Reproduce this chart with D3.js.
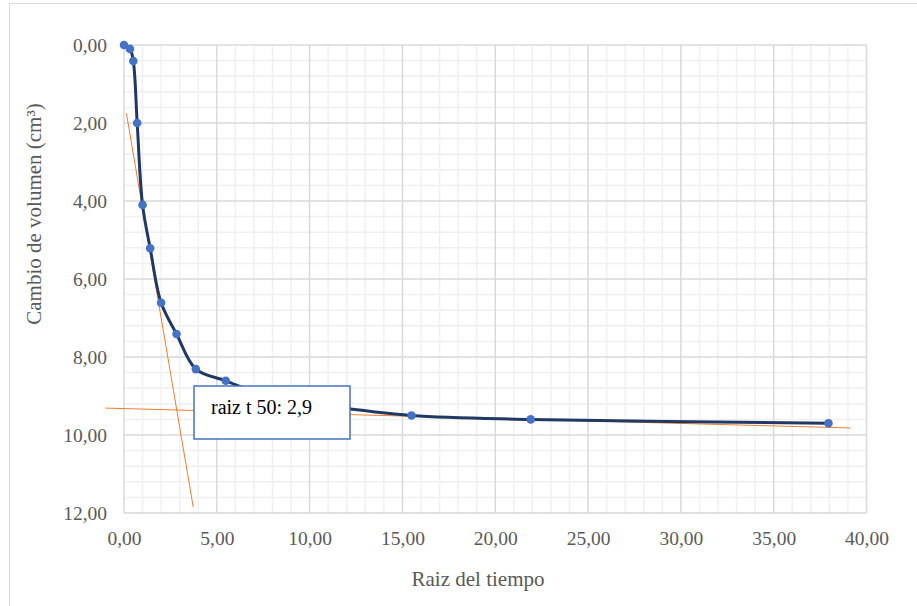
<!DOCTYPE html>
<html>
<head>
<meta charset="utf-8">
<script src="https://cdn.jsdelivr.net/npm/d3@7"></script>
<style>
  html, body { margin: 0; padding: 0; background: #fff; }
  svg { display: block; }
</style>
</head>
<body>
<svg id="chart" width="917" height="606"></svg>
<script>
// Square root of elapsed time and measured volume change
const rootTime = [0, 0.32, 0.50, 0.71, 1.00, 1.41, 2.00, 2.83, 3.87, 5.48, 7.75, 10.95, 15.49, 21.91, 37.95];
const volumeChange = [0, 0.10, 0.41, 2.00, 4.10, 5.21, 6.61, 7.41, 8.31, 8.61, 9.00, 9.25, 9.50, 9.60, 9.70];

// Construction lines (Taylor method): initial tangent and final asymptote
const steepTangent = [[0.13, 1.75], [3.73, 11.85]];
const flatTangent = [[-1.0, 9.31], [39.15, 9.82]];

// Axis ticks
const xTicks = [0, 5, 10, 15, 20, 25, 30, 35, 40];
const yTicks = [0, 2, 4, 6, 8, 10, 12];

const annotationText = "raiz t 50: 2,9";

const svg = d3.select("#chart");
const margin = { left: 124, top: 45, right: 866.5, bottom: 513 };
const serif = "'Liberation Serif', 'Times New Roman', serif";

const x = d3.scaleLinear().domain([0, 40]).range([margin.left, margin.right]);
const y = d3.scaleLinear().domain([0, 12]).range([margin.top, margin.bottom]);

const fmt = v => d3.format(".2f")(v).replace(".", ",");

// Outer chart frame
svg.append("rect")
  .attr("x", 9.5).attr("y", 3.5)
  .attr("width", 940).attr("height", 640)
  .attr("fill", "#fff").attr("stroke", "#d9d9d9").attr("stroke-width", 1);

// Minor gridlines
const grid = svg.append("g");
grid.selectAll(".vminor").data(d3.range(1, 40, 1).filter(v => v % 5 !== 0))
  .join("line")
  .attr("x1", d => x(d)).attr("x2", d => x(d))
  .attr("y1", y(0)).attr("y2", y(12))
  .attr("stroke", "#f0f0f0").attr("stroke-width", 1.5);
grid.selectAll(".hminor").data(d3.range(0.4, 12, 0.4).filter(v => Math.abs(v / 2 - Math.round(v / 2)) > 1e-6))
  .join("line")
  .attr("x1", x(0)).attr("x2", x(40))
  .attr("y1", d => y(d)).attr("y2", d => y(d))
  .attr("stroke", "#f0f0f0").attr("stroke-width", 1.5);

// Major gridlines
grid.selectAll(".vmajor").data(xTicks)
  .join("line")
  .attr("x1", d => x(d)).attr("x2", d => x(d))
  .attr("y1", y(0)).attr("y2", y(12))
  .attr("stroke", "#d9d9d9").attr("stroke-width", 1.5);
grid.selectAll(".hmajor").data(yTicks)
  .join("line")
  .attr("x1", x(0)).attr("x2", x(40))
  .attr("y1", d => y(d)).attr("y2", d => y(d))
  .attr("stroke", "#d9d9d9").attr("stroke-width", 1.5);

// Axes (labels only; gridlines carry the lines)
const xAxis = svg.append("g")
  .attr("transform", `translate(0,${y(12)})`)
  .call(d3.axisBottom(x).tickValues(xTicks).tickFormat(fmt).tickSize(0).tickPadding(18));
const yAxis = svg.append("g")
  .attr("transform", `translate(${x(0)},0)`)
  .call(d3.axisLeft(y).tickValues(yTicks).tickFormat(fmt).tickSize(0).tickPadding(17));
[xAxis, yAxis].forEach(a => {
  a.select(".domain").remove();
  a.selectAll("text")
    .attr("font-family", serif)
    .attr("font-size", 19.5)
    .attr("fill", "#595959");
});

// Construction lines
const lineGen = d3.line().x(d => x(d[0])).y(d => y(d[1]));
[steepTangent, flatTangent].forEach(seg => {
  svg.append("path")
    .attr("d", lineGen(seg))
    .attr("fill", "none")
    .attr("stroke", "#ed7d31")
    .attr("stroke-width", 1);
});

// Consolidation curve
const pts = rootTime.map((t, i) => [t, volumeChange[i]]);
svg.append("path")
  .attr("d", d3.line().x(d => x(d[0])).y(d => y(d[1])).curve(d3.curveCatmullRom.alpha(0.5))(pts))
  .attr("fill", "none")
  .attr("stroke", "#203864")
  .attr("stroke-width", 3)
  .attr("stroke-linejoin", "round");

svg.append("g").selectAll("circle").data(pts)
  .join("circle")
  .attr("cx", d => x(d[0])).attr("cy", d => y(d[1]))
  .attr("r", 4.3)
  .attr("fill", "#4472c4");

// Annotation box
const box = svg.append("g");
box.append("rect")
  .attr("x", 194).attr("y", 386)
  .attr("width", 156).attr("height", 53)
  .attr("fill", "#fff")
  .attr("stroke", "#4472c4").attr("stroke-width", 1.5);
box.append("text")
  .attr("x", 211).attr("y", 414)
  .attr("font-family", serif)
  .attr("font-size", 20)
  .attr("fill", "#000")
  .text(annotationText);

// Axis titles
svg.append("text")
  .attr("x", 478).attr("y", 586)
  .attr("text-anchor", "middle")
  .attr("font-family", serif)
  .attr("font-size", 21)
  .attr("fill", "#595959")
  .text("Raiz del tiempo");

svg.append("text")
  .attr("transform", "translate(41,214) rotate(-90)")
  .attr("text-anchor", "middle")
  .attr("font-family", serif)
  .attr("font-size", 21)
  .attr("fill", "#595959")
  .text("Cambio de volumen (cm³)");
</script>
</body>
</html>
